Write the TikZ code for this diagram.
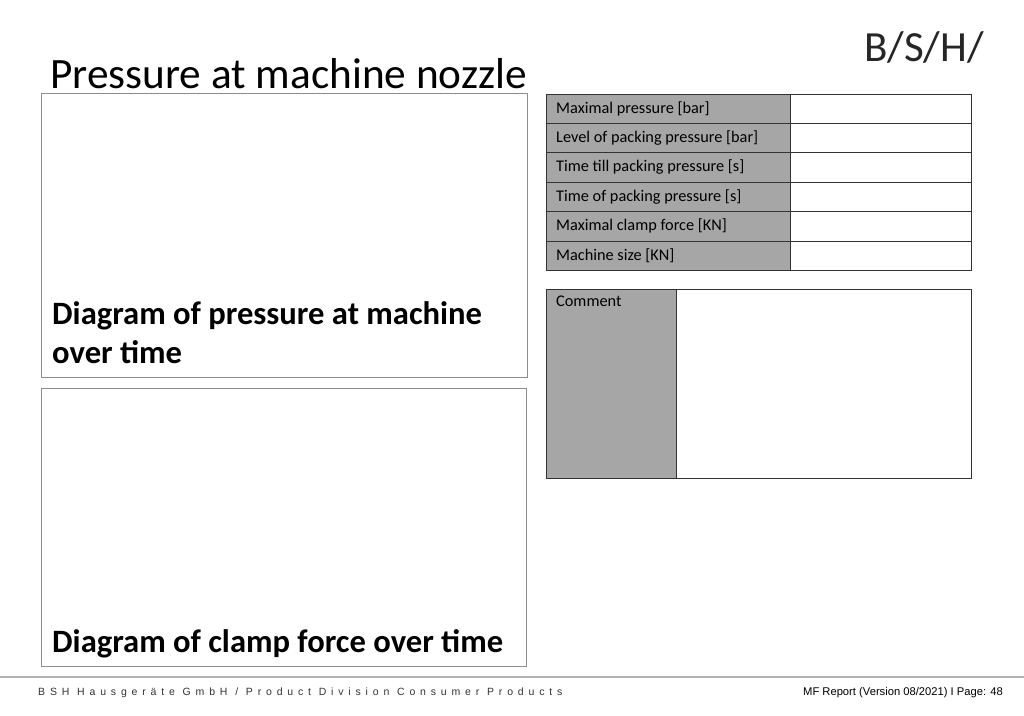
\documentclass[tikz,border=0pt]{standalone}
\usepackage{fontspec}
\setmainfont{Carlito}
\newfontfamily\footfont{Liberation Sans}
\newfontfamily\footspaced[LetterSpace=46]{Liberation Sans}
\definecolor{cellgray}{HTML}{A6A6A6}
\definecolor{framegray}{HTML}{8C8C8C}
\begin{document}
\begin{tikzpicture}[x=1pt,y=-1pt,
  frame/.style={draw=framegray,line width=1pt},
  cell/.style={draw=black!80,line width=0.8pt},
  lbl/.style={anchor=west,font=\fontsize{16.3}{18}\selectfont,inner sep=0pt}]
\useasboundingbox[fill=white] (0,0) rectangle (1024,715);
\node[anchor=base west,inner sep=0pt,font=\fontsize{43.3}{46}\selectfont] (title) at (50,88) {Pressure at machine nozzle};
\node[anchor=base west,inner sep=0pt,font=\fontsize{43}{43}\selectfont,text=black!85] (logo) at (864,61) {B/S/H/};
\draw[frame] (41,93) rectangle (527,377);
\node[anchor=base west,inner sep=0pt,font=\bfseries\fontsize{32.6}{39}\selectfont] (t1) at (52,324) {Diagram of pressure at machine};
\node[anchor=base west,inner sep=0pt,font=\bfseries\fontsize{32.6}{39}\selectfont] (t1b) at (52,363) {over time};
\draw[frame] (41,388) rectangle (526,666);
\node[anchor=base west,inner sep=0pt,font=\bfseries\fontsize{32.6}{34}\selectfont] (t2) at (52,652) {Diagram of clamp force over time};
\foreach \t [count=\i] in {Maximal pressure [bar],Level of packing pressure [bar],Time till packing pressure [s],Time of packing pressure [s],Maximal clamp force [KN],Machine size [KN]}{
  \pgfmathsetmacro\ya{94+(\i-1)*29.4}
  \pgfmathsetmacro\yb{94+\i*29.4}
  \draw[cell,fill=cellgray] (546,\ya) rectangle (790,\yb);
  \draw[cell] (790,\ya) rectangle (971,\yb);
  \node[lbl] (r\i) at (556,{(\ya+\yb)/2}) {\t};
}
\draw[cell,fill=cellgray] (546,289) rectangle (676,478);
\draw[cell] (676,289) rectangle (971,478);
\node[lbl,anchor=north west] (cm) at (556,296) {Comment};
\draw[black!30,line width=1.5pt] (0,677) -- (1024,677);
\node[anchor=base west,inner sep=0pt,font=\footspaced\fontsize{10.5}{12}\selectfont,text=black!80] (f1) at (38,695) {BSH Hausgeräte GmbH / Product Division Consumer Products};
\node[anchor=base east,inner sep=0pt,font=\footfont\fontsize{11.2}{12}\selectfont] (f2) at (1003,695) {MF Report (Version 08/2021) I Page: 48};
\end{tikzpicture}
\end{document}
